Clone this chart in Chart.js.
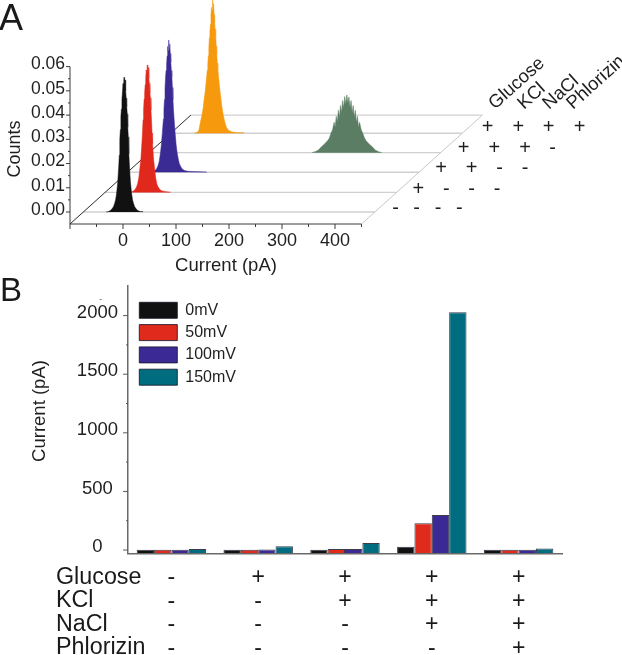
<!DOCTYPE html>
<html>
<head>
<meta charset="utf-8">
<style>
html,body{margin:0;padding:0;background:#fff;width:622px;height:655px;overflow:hidden}
canvas{position:absolute;left:0;display:block}
#a{top:0}
#b{top:270px}
</style>
<script src="https://cdn.jsdelivr.net/npm/chart.js@4/dist/chart.umd.min.js"></script>
</head>
<body>
<canvas id="a" width="622" height="285"></canvas>
<canvas id="b" width="622" height="385"></canvas>
<script>
/* ---------- Panel A data ---------- */
const narrowBins = [-34,-30,-26,-23,-20,-18,-16,-14,-12,-10,-9,-8,-7,-6,-5,-4,-3,-2,-1,0,1,2,3,4,5,6,7,8,9,10,12,14,16,18,20,23,26,30,36,44,60,72];
const blackCounts = [0,.0001,.0006,.0012,.0022,.0034,.005,.0078,.012,.019,.0235,.03,.034,.0395,.0425,.0465,.0495,.053,.0515,.0556,.052,.0545,.05,.047,.0435,.0405,.035,.031,.024,.0195,.0125,.008,.005,.0034,.0022,.0012,.0006,.0002,.0001];
const redCounts = [0,.0002,.0006,.0012,.0024,.0038,.006,.01,.014,.021,.025,.03,.034,.0385,.041,.0445,.047,.0505,.048,.0526,.0485,.0515,.047,.045,.041,.039,.034,.03,.0245,.02,.0135,.0095,.0058,.0036,.0024,.0014,.0008,.0005,.0003,.0001];
const blueCounts = [0,.0002,.0007,.0014,.0028,.0044,.0072,.011,.0162,.022,.026,.03,.0345,.039,.042,.0445,.048,.052,.05,.0546,.051,.053,.049,.0455,.042,.0395,.035,.03,.026,.0225,.0165,.0115,.008,.0055,.0036,.0022,.0012,.0007,.0004,.0003,.0002,.0001];
const orangeCounts = [.0001,.0003,.001,.0045,.0075,.01,.0138,.017,.0215,.026,.0285,.032,.0355,.0395,.042,.045,.049,.052,.051,.0565,.052,.0535,.049,.0455,.043,.04,.036,.0325,.029,.0265,.022,.0175,.014,.0105,.0078,.0048,.0026,.0012,.0006,.0003,.0002];
const wideBins = [-66,-60,-54,-48,-42,-36,-33,-30,-27,-24,-22,-20,-18,-16,-14,-12,-10,-8,-6,-4,-2,0,2,4,6,8,10,12,14,16,18,20,22,24,27,30,33,36,42,48,54,60,66];
const greenCounts = [0,.0004,.001,.0024,.0036,.005,.006,.008,.0094,.0125,.0105,.015,.0125,.0175,.0145,.0195,.0165,.0215,.0185,.0232,.02,.0238,.0205,.023,.0185,.0215,.0165,.0195,.0145,.0175,.0125,.015,.0105,.0125,.0095,.008,.0062,.005,.0036,.0024,.001,.0004,0];
const traceCenters = [2,4.7,3,298,4];
const traceDepths = [0,.0081,.0164,.0245,.0325];
const rowDepths = [0,.0081,.0164,.0245,.0325,.04];
const xTicksA = [-100,-50,0,50,100,150,200,250,300,350,400,450];
const yTicksA = [0,.005,.01,.015,.02,.025,.03,.035,.04,.045,.05,.055,.06];
const signRowsA = [['+','+','+','+'],['+','+','+','-'],['+','+','-','-'],['+','-','-','-'],['-','-','-','-']];
const solutionsA = ['Glucose','KCl','NaCl','Phlorizin'];
/* ---------- Panel B data ---------- */
const groupSigns = [['-','-','-','-'],['+','-','-','-'],['+','+','-','-'],['+','+','+','-'],['+','+','+','+']];
const solutionsB = ['Glucose','KCl','NaCl','Phlorizin'];
const voltages = ['0mV','50mV','100mV','150mV'];
const current0 = [3,3,3,28,3];
const current50 = [3,3,9,228,3];
const current100 = [3,5,9,299,3];
const current150 = [9,32,60,2028,14];
const yTicksB = [0,250,500,750,1000,1250,1500,1750,2000];

/* ---------- styling and layout ---------- */
const FONT = '"Liberation Sans", Arial, sans-serif';
const DEPTH_X = 5075;           // pA of sideways shift per unit of depth
const X_MIN = -100, X_END = 450, Y_FLOOR = -.00495, Y_TOP = .06;
const colA = ['#111111','#e0281c','#3a2b94','#5a7d63','#f7990c'];
const colB = ['#111111','#e02a1b','#3b2a96','#006c7f'];
const noMargins = s => {s.paddingTop=0;s.paddingBottom=0;s.paddingLeft=0;s.paddingRight=0;};

function shift(d){return (d - Y_FLOOR) * DEPTH_X;}
function traceData(bins, counts, k){
  return counts.map((c,i)=>({x: traceCenters[k] + bins[i] + traceDepths[k]*DEPTH_X, y: traceDepths[k] + c}));
}
const traces = [[narrowBins,blackCounts],[narrowBins,redCounts],[narrowBins,blueCounts],[wideBins,greenCounts],[narrowBins,orangeCounts]];
const datasetsA = traces.map((t,k)=>({
  data: traceData(t[0],t[1],k), showLine:true, pointRadius:0, borderWidth:.5,
  borderColor: colA[k], backgroundColor: colA[k], fill:{value:traceDepths[k]}, tension:0, clip:false
}));
datasetsA.push({data:[{x:X_MIN,y:Y_FLOOR},{x:X_MIN+shift(.04),y:.04}],showLine:true,pointRadius:0,borderWidth:1,borderColor:'#2b2b2b'});
datasetsA.push({data:[{x:X_END,y:Y_FLOOR},{x:X_END+shift(.04),y:.04}],showLine:true,pointRadius:0,borderWidth:1,borderColor:'#c8c8c8'});
rowDepths.forEach(d=>datasetsA.push({data:[{x:X_MIN+shift(d),y:d},{x:X_END+shift(d),y:d}],showLine:true,pointRadius:0,borderWidth:1.3,borderColor:'#d0d0d0'}));

function tickMark(ctx,x0,y0,x1,y1,color,w){ctx.save();ctx.strokeStyle=color;ctx.lineWidth=w;ctx.beginPath();ctx.moveTo(x0,y0);ctx.lineTo(x1,y1);ctx.stroke();ctx.restore();}
function text(ctx,s,x,y,font,color,rot,align){ctx.save();ctx.translate(x,y);if(rot)ctx.rotate(rot);ctx.font=font;ctx.fillStyle=color;ctx.textAlign=align||'left';ctx.textBaseline='alphabetic';ctx.fillText(s,0,0);ctx.restore();}

const frameA = {id:'frameA',beforeDatasetsDraw(chart){
  const {ctx,scales:{x,y}} = chart, c='#3a3a3a';
  const yb=y.getPixelForValue(Y_FLOOR), xl=x.getPixelForValue(X_MIN);
  tickMark(ctx,xl,yb,x.getPixelForValue(X_END),yb,c,1);
  tickMark(ctx,xl,yb,xl,y.getPixelForValue(Y_TOP),c,1);
  xTicksA.forEach(v=>{const p=x.getPixelForValue(v);tickMark(ctx,p,yb,p,yb+(v%100===0?5:3),c,1);});
  yTicksA.forEach((v,i)=>{const p=y.getPixelForValue(v);tickMark(ctx,xl,p,xl-(i%2===0?4:2),p,c,1);});
},afterDatasetsDraw(chart){
  const ctx=chart.ctx,f=s=>s+'px '+FONT,dark='#1f1f1f';
  text(ctx,'A',-1,30,f(36),'#1a1a1a');
  text(ctx,'Counts',20,149,f(18),dark,-Math.PI/2,'center');
  text(ctx,'Current (pA)',226,271,f(18.5),dark,0,'center');
  const labelX=[495,524,549,573],rot=-42*Math.PI/180;
  solutionsA.forEach((s,i)=>text(ctx,s,labelX[i],110,f(18.5),dark,rot));
  const rowY=[132.5,153.5,173.5,194.5,214];
  const colX=[[487.7,518.3,548.7,579.7],[463.7,494.3,525,552.7],[441,471.7,499.7,525],[418.3,446.3,471.7,497],[395.7,416.7,438,459.3]];
  signRowsA.forEach((row,r)=>row.forEach((sg,c)=>text(ctx,sg,colX[r][c],rowY[r],f(20),dark,0,'center')));
}};

new Chart(document.getElementById('a'),{
  type:'scatter',
  data:{datasets:datasetsA},
  plugins:[frameA],
  options:{
    responsive:false,animation:false,events:[],
    layout:{autoPadding:false,padding:0},
    plugins:{legend:{display:false},tooltip:{enabled:false}},
    scales:{
      x:{type:'linear',min:X_MIN,max:X_MIN+552/.53,grid:{display:false,drawTicks:false},border:{display:false},
        afterBuildTicks:s=>{s.ticks=xTicksA.map(v=>({value:v}));},
        afterFit:s=>{noMargins(s);s.height=61;},
        ticks:{autoSkip:false,maxRotation:0,minRotation:0,padding:6,color:'#1f1f1f',font:{family:FONT,size:18},
          callback:v=>v>=0&&v%100===0?String(v):''}},
      y:{type:'linear',min:Y_FLOOR,max:(212/2423),grid:{display:false,drawTicks:false},border:{display:false},
        afterBuildTicks:s=>{s.ticks=yTicksA.map(v=>({value:v}));},
        afterFit:s=>{noMargins(s);s.width=70;},
        ticks:{autoSkip:false,padding:5,labelOffset:-2,color:'#1f1f1f',font:{family:FONT,size:17.5},
          callback:(v,i)=>i%2===0?v.toFixed(2):''}}
    }
  }
});

const frameB = {id:'frameB',afterLayout(chart){
  const l=chart.legend; l.left=139-6; l.top=32-6;
},beforeDatasetsDraw(chart){
  const {ctx,scales:{y},chartArea:a}=chart,c='#5a5a5a';
  yTicksB.forEach(v=>{const p=y.getPixelForValue(v);tickMark(ctx,a.left,p,a.left-(v%500===0?5:2),p,c,1);});
},afterDatasetsDraw(chart){
  const ctx=chart.ctx,f=s=>s+'px '+FONT,dark='#1f1f1f';
  text(ctx,'B',0,31,f(33),'#1a1a1a');
  text(ctx,'-',99,32,f(10),'#888');
  text(ctx,'Current (pA)',44.5,141,f(18.5),dark,-Math.PI/2,'center');
  const rowY=[313.5,337,360.5,384];
  solutionsB.forEach((s,i)=>text(ctx,s,56,rowY[i],f(23.3),'#1a1a1a'));
}};

const seriesB=[current0,current50,current100,current150];
new Chart(document.getElementById('b'),{
  type:'bar',
  data:{labels:groupSigns,datasets:seriesB.map((d,i)=>({label:voltages[i],data:d,backgroundColor:colB[i],borderColor:'rgba(25,25,45,.85)',borderWidth:1,base:-28,categoryPercentage:.8,barPercentage:1}))},
  plugins:[frameB],
  options:{
    responsive:false,animation:false,events:[],
    layout:{autoPadding:false,padding:{left:0,right:60,top:16,bottom:0}},
    plugins:{tooltip:{enabled:false},
      legend:{position:'chartArea',align:'start',labels:{boxWidth:38,boxHeight:16,padding:6.3,color:'#1f1f1f',font:{family:FONT,size:16}}}},
    scales:{
      x:{type:'category',grid:{display:false,drawTicks:false},border:{display:true,color:'#6a6a6a',width:1.5},
        afterFit:s=>{noMargins(s);s.height=101.7;},
        ticks:{autoSkip:false,maxRotation:0,minRotation:0,padding:13,color:'#1a1a1a',font:{family:FONT,size:23,lineHeight:23.4/23}}},
      y:{type:'linear',min:-28,max:2252.6,grid:{display:false,drawTicks:false},border:{display:true,color:'#6a6a6a',width:1.5},
        afterBuildTicks:s=>{s.ticks=yTicksB.map(v=>({value:v}));},
        afterFit:s=>{noMargins(s);s.width=128;},
        ticks:{autoSkip:false,crossAlign:'center',padding:10,labelOffset:-3,color:'#1f1f1f',font:{family:FONT,size:18.5},
          callback:v=>v%500===0?String(v):''}}
    }
  }
});
</script>
</body>
</html>
